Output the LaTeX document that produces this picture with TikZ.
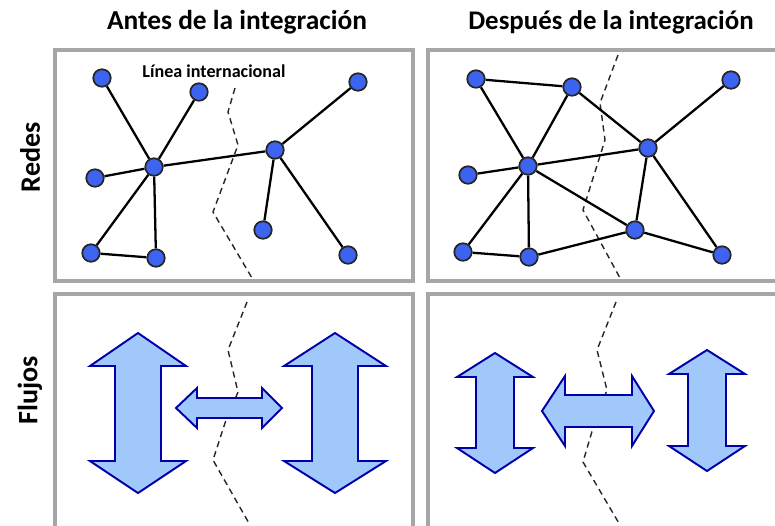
\documentclass[tikz,border=0pt]{standalone}
\usepackage{fontspec}
\setmainfont{Carlito}
\begin{document}
\begin{tikzpicture}[x=0.02cm, y=-0.02cm, font=\bfseries]
    \tikzset{city/.style={circle,draw=black!85,fill={rgb,255:red,60;green,100;blue,240},line width=1pt,minimum size=0.35cm,inner sep=0pt}}
    \tikzset{link/.style={line width=1.3pt,black}}
    \tikzset{border/.style={draw=gray!70,line width=2pt}}
    \tikzset{frontier/.style={line width=0.8pt,black!85,dash pattern=on 3.5pt off 2.5pt}}
    \tikzset{flow/.style={draw={rgb,255:red,0;green,0;blue,170},fill={rgb,255:red,160;green,200;blue,250},line width=1.1pt,line join=miter}}
    \useasboundingbox (0,0) rectangle (775,525);
    \clip (0,0) rectangle (775,525);

    % Titles
    \node[font=\fontsize{15.6}{18}\bfseries] (t_before) at (237,22) {Antes de la integración};
    \node[font=\fontsize{15.3}{18}\bfseries] (t_after) at (611,22) {Después de la integración};
    \node[font=\fontsize{16}{19}\bfseries, rotate=90] (l_nets) at (30,157) {Redes};
    \node[font=\fontsize{16}{19}\bfseries, rotate=90] (l_flows) at (30,390) {Flujos};

    % Panels
    \draw[border] (55,50) rectangle (413,281);
    \draw[border] (428,50) rectangle (790,281);
    \draw[border] (55,294) rectangle (413,560);
    \draw[border] (428,294) rectangle (790,560);

    % Borders between countries
    \draw[frontier] (235,88) -- (228,112) -- (238,145) -- (213,212) -- (252,278);
    \draw[frontier] (618,55) -- (600,103) -- (605,140) -- (583,210) -- (620,278);
    \draw[frontier] (247,302) -- (228,350) -- (238,392) -- (225,423) -- (213,460) -- (250,525);
    \draw[frontier] (616,302) -- (597,350) -- (607,390) -- (593,428) -- (583,462) -- (620,525);

    % Networks - before
    \node[city] (a1) at (102,78) {};
    \node[city] (a2) at (199,92) {};
    \node[city] (a3) at (358,82) {};
    \node[city] (a4) at (154,167) {};
    \node[city] (a5) at (275,150) {};
    \node[city] (a6) at (95,178) {};
    \node[city] (a7) at (263,230) {};
    \node[city] (a8) at (91,253) {};
    \node[city] (a9) at (156,258) {};
    \node[city] (a10) at (348,255) {};
    \foreach \u/\v in {a1/a4, a2/a4, a6/a4, a8/a4, a9/a4, a8/a9, a4/a5, a5/a3, a5/a7, a5/a10}
        \draw[link] (\u) -- (\v);
    \node[font=\fontsize{10.3}{12}\bfseries, fill=white, inner sep=1pt] (border_label) at (214,71) {Línea internacional};

    % Networks - after
    \node[city] (b1) at (476,79) {};
    \node[city] (b2) at (572,87) {};
    \node[city] (b3) at (731,80) {};
    \node[city] (b4) at (528,166) {};
    \node[city] (b5) at (648,148) {};
    \node[city] (b6) at (468,175) {};
    \node[city] (b7) at (635,230) {};
    \node[city] (b8) at (463,252) {};
    \node[city] (b9) at (529,257) {};
    \node[city] (b10) at (722,255) {};
    \foreach \u/\v in {b1/b2, b1/b4, b2/b4, b2/b5, b5/b3, b4/b5, b4/b6, b4/b8, b4/b9, b4/b7, b8/b9, b9/b7, b7/b5, b7/b10, b5/b10}
        \draw[link] (\u) -- (\v);

    % Flows - before
    \draw[flow] (138,333) -- (186,366) -- (161,366) -- (161,461) -- (186,461) -- (138,493) -- (90,461) -- (115,461) -- (115,366) -- (90,366) -- cycle;
    \draw[flow] (335,333) -- (386,366) -- (358,366) -- (358,461) -- (386,461) -- (335,493) -- (284,461) -- (312,461) -- (312,366) -- (284,366) -- cycle;
    \draw[flow] (176,408) -- (197,388) -- (197,398) -- (262,398) -- (262,388) -- (282,408) -- (262,428) -- (262,418) -- (197,418) -- (197,428) -- cycle;

    % Flows - after
    \draw[flow] (495,353) -- (533,377) -- (514,377) -- (514,448) -- (533,448) -- (495,473) -- (457,448) -- (476,448) -- (476,377) -- (457,377) -- cycle;
    \draw[flow] (707,350) -- (745,374) -- (726,374) -- (726,446) -- (745,446) -- (707,471) -- (669,446) -- (688,446) -- (688,374) -- (669,374) -- cycle;
    \draw[flow] (542,411) -- (565,376) -- (565,395) -- (632,395) -- (632,376) -- (654,411) -- (632,446) -- (632,427) -- (565,427) -- (565,446) -- cycle;
\end{tikzpicture}
\end{document}
